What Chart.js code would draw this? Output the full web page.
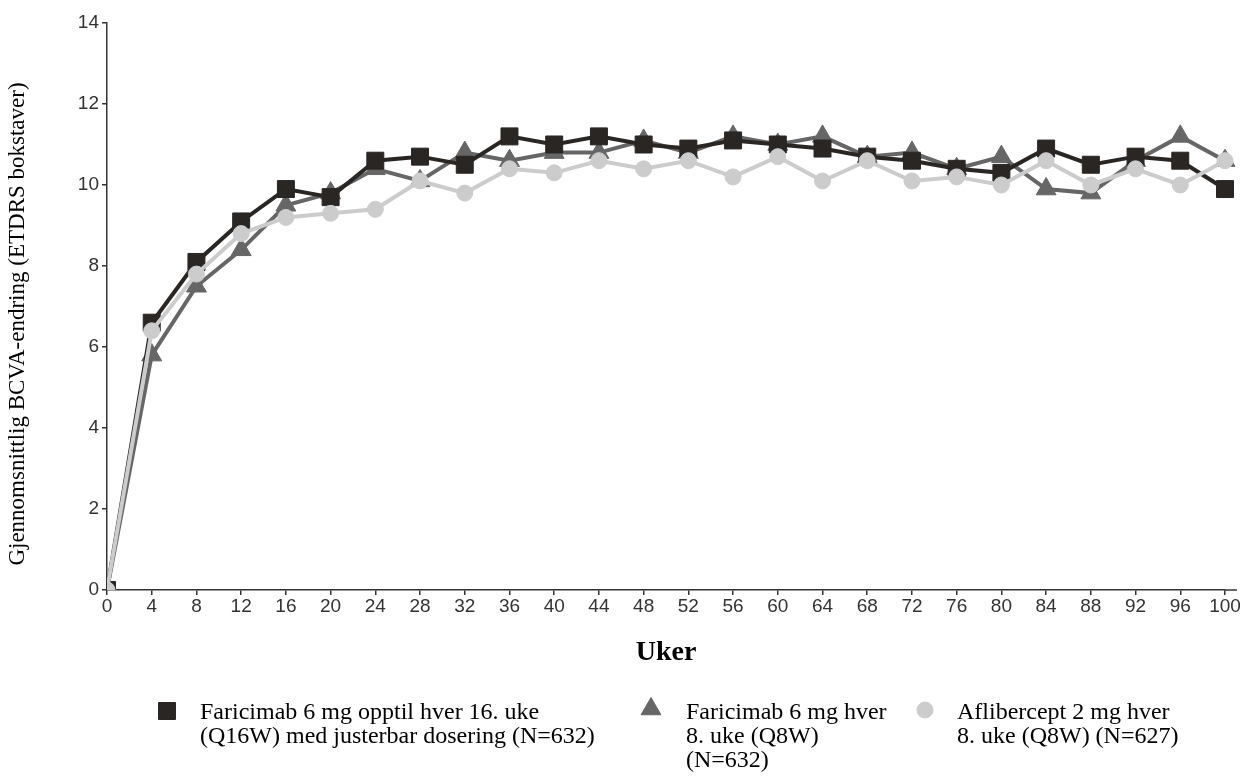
<!DOCTYPE html>
<html>
<head>
<meta charset="utf-8">
<script src="https://cdn.jsdelivr.net/npm/chart.js@4.4.1/dist/chart.umd.min.js"></script>
<style>
  html, body { margin: 0; padding: 0; background: #fff; }
  #wrap { width: 1243px; height: 776px; position: relative; }
</style>
</head>
<body>
<div id="wrap"><canvas id="chart"></canvas></div>
<script>
// weeks on the x axis
const weeks = [0, 4, 8, 12, 16, 20, 24, 28, 32, 36, 40, 44, 48, 52, 56, 60, 64, 68, 72, 76, 80, 84, 88, 92, 96, 100];
const yTicks = [0, 2, 4, 6, 8, 10, 12, 14];

// mean BCVA change per visit
const faricimabQ16W = [0, 6.6, 8.1, 9.1, 9.9, 9.7, 10.6, 10.7, 10.5, 11.2, 11.0, 11.2, 11.0, 10.9, 11.1, 11.0, 10.9, 10.7, 10.6, 10.4, 10.3, 10.9, 10.5, 10.7, 10.6, 9.9];
const faricimabQ8W = [0, 5.8, 7.5, 8.4, 9.5, 9.8, 10.4, 10.1, 10.8, 10.6, 10.8, 10.8, 11.1, 10.8, 11.2, 11.0, 11.2, 10.7, 10.8, 10.4, 10.7, 9.9, 9.8, 10.6, 11.2, 10.6];
const aflibercept = [0, 6.4, 7.8, 8.8, 9.2, 9.3, 9.4, 10.1, 9.8, 10.4, 10.3, 10.6, 10.4, 10.6, 10.2, 10.7, 10.1, 10.6, 10.1, 10.2, 10.0, 10.6, 10.0, 10.4, 10.0, 10.6];

const legendQ16W = ["Faricimab 6 mg opptil hver 16. uke", "(Q16W) med justerbar dosering (N=632)"];
const legendQ8W = ["Faricimab 6 mg hver", "8. uke (Q8W)", "(N=632)"];
const legendAflib = ["Aflibercept 2 mg hver", "8. uke (Q8W) (N=627)"];
const yTitle = "Gjennomsnittlig BCVA-endring (ETDRS bokstaver)";

const SERIF = "'Liberation Serif', 'Times New Roman', serif";
const SANS = "'Liberation Sans Narrow', 'Arial Narrow', 'Liberation Sans', sans-serif";

// y title, axis stub and the multi-line legend under the chart
const extras = {
    id: "extras",
    afterDraw(chart) {
        const ctx = chart.ctx;
        const area = chart.chartArea;
        ctx.save();

        // x axis line runs a bit past the last tick
        ctx.strokeStyle = "#333";
        ctx.lineWidth = 1.5;
        ctx.beginPath();
        ctx.moveTo(area.right, area.bottom);
        ctx.lineTo(area.right + 12, area.bottom);
        ctx.stroke();

        ctx.save();
        ctx.translate(18, 324);
        ctx.rotate(-Math.PI / 2);
        ctx.fillStyle = "#000";
        ctx.font = "23px " + SERIF;
        ctx.textAlign = "center";
        ctx.textBaseline = "middle";
        ctx.fillText(yTitle, 0, 0);
        ctx.restore();

        const items = [
            { lines: legendQ16W, style: "rect", color: "#2a2623", radius: 12, mx: 167, my: 711, tx: 200 },
            { lines: legendQ8W, style: "triangle", color: "#666666", radius: 11.5, mx: 651, my: 709, tx: 686 },
            { lines: legendAflib, style: "circle", color: "#cccccc", radius: 8, mx: 925, my: 710, tx: 957 },
        ];
        items.forEach((it) => {
            ctx.fillStyle = it.color;
            ctx.strokeStyle = it.color;
            ctx.lineWidth = 1;
            Chart.helpers.drawPoint(ctx, { pointStyle: it.style, radius: it.radius, borderWidth: 1, rotation: 0 }, it.mx, it.my);
            ctx.fillStyle = "#000";
            ctx.font = "24px " + SERIF;
            ctx.textAlign = "left";
            ctx.textBaseline = "alphabetic";
            it.lines.forEach((line, i) => {
                ctx.fillText(line, it.tx, 719 + i * 24);
            });
        });
        ctx.restore();
    },
};

new Chart(document.getElementById("chart"), {
    type: "line",
    data: {
        labels: weeks,
        datasets: [
            {
                label: legendAflib.join(" "),
                data: aflibercept,
                borderColor: "#cccccc",
                backgroundColor: "#cccccc",
                pointStyle: "circle",
                pointRadius: 8,
                borderWidth: 4,
                order: 0,
            },
            {
                label: legendQ16W.join(" "),
                data: faricimabQ16W,
                borderColor: "#2a2623",
                backgroundColor: "#2a2623",
                pointStyle: "rect",
                pointRadius: 12,
                borderWidth: 4,
                order: 1,
            },
            {
                label: legendQ8W.join(" "),
                data: faricimabQ8W,
                borderColor: "#666666",
                backgroundColor: "#666666",
                pointStyle: "triangle",
                pointRadius: 11.5,
                borderWidth: 4,
                order: 2,
            },
        ].map((ds) => ({ ...ds, tension: 0, pointBorderWidth: 1, clip: { left: 0, bottom: 0, top: false, right: false } })),
    },
    options: {
        responsive: true,
        maintainAspectRatio: false,
        animation: false,
        layout: { padding: { left: 0, right: 18, top: 23, bottom: 102 } },
        plugins: {
            legend: { display: false },
            tooltip: { enabled: false },
        },
        scales: {
            x: {
                type: "category",
                offset: false,
                grid: { drawOnChartArea: false, drawTicks: true, tickLength: 5, color: "#333", lineWidth: 1.5 },
                border: { color: "#333", width: 1.5 },
                ticks: { color: "#333", font: { family: SANS, size: 19 }, padding: 0, maxRotation: 0, autoSkip: false },
                title: { display: true, text: "Uker", color: "#000", font: { family: SERIF, size: 28, weight: "bold" }, padding: { top: 4, bottom: 4 } },
                afterFit(scale) {
                    scale.height = 84;
                },
            },
            y: {
                min: 0,
                max: 14,
                afterBuildTicks(scale) {
                    scale.ticks = yTicks.map((v) => ({ value: v }));
                },
                grid: { drawOnChartArea: false, drawTicks: true, tickLength: 5, color: "#333", lineWidth: 1.5 },
                border: { color: "#333", width: 1.5 },
                ticks: { color: "#333", font: { family: SANS, size: 19 }, padding: 3 },
                afterFit(scale) {
                    scale.width = 107;
                },
            },
        },
    },
    plugins: [extras],
});
</script>
</body>
</html>
